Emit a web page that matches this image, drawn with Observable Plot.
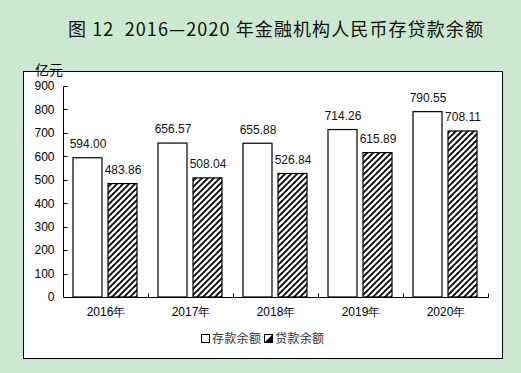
<!DOCTYPE html>
<html><head><meta charset="utf-8">
<script src="https://cdn.jsdelivr.net/npm/d3@7"></script>
<script src="https://cdn.jsdelivr.net/npm/@observablehq/plot@0.6"></script>
<style>
html,body{margin:0;padding:0;}
body{width:521px;height:373px;background:#cde8d0;position:relative;overflow:hidden;font-family:"Liberation Sans",Arial,sans-serif;}
#title{position:absolute;left:68px;top:17px;height:22px;line-height:22px;font-family:"Noto Sans CJK SC","Liberation Sans",sans-serif;font-size:18px;letter-spacing:1.1px;white-space:pre;color:#111;}
#box{position:absolute;left:23px;top:71px;width:478px;height:286px;border:1px solid #000;background:#fff;}
#unit{position:absolute;left:35px;top:60px;line-height:18px;font-family:"Noto Sans CJK SC",sans-serif;font-size:14px;color:#000;}
#chart{position:absolute;left:0;top:0;}
#legend{position:absolute;left:201px;top:330px;height:16px;line-height:16px;font-family:"Noto Sans CJK SC",sans-serif;font-size:12px;color:#333;white-space:nowrap;display:flex;align-items:center;}
#legend svg{display:block;margin-right:2px;}
#legend span{margin-right:3px;letter-spacing:0.3px;}
</style>
</head><body>
<div id="title">图 12  2016—2020 年金融机构人民币存贷款余额</div>
<div id="box"></div>
<div id="chart"></div>
<div id="unit">亿元</div>
<div id="legend">
  <svg width="9" height="9"><rect x="0.5" y="0.5" width="8" height="8" fill="#fff" stroke="#000"/></svg><span>存款余额</span>
  <svg width="9" height="9"><rect x="0.5" y="0.5" width="8" height="8" fill="#fff" stroke="#000"/><polygon points="8.5,0.5 8.5,8.5 0.5,8.5" fill="#000"/></svg><span>贷款余额</span>
</div>
<script>
const years = ["2016", "2017", "2018", "2019", "2020"];
const seriesNames = ["存款余额", "贷款余额"];
const deposits = [594.00, 656.57, 655.88, 714.26, 790.55];
const loans = [483.86, 508.04, 526.84, 615.89, 708.11];
const yTicks = [0, 100, 200, 300, 400, 500, 600, 700, 800, 900];

const depositRows = years.map((year, i) => ({year, series: seriesNames[0], value: deposits[i]}));
const loanRows = years.map((year, i) => ({year, series: seriesNames[1], value: loans[i]}));
const rows = depositRows.concat(loanRows);

const chart = Plot.plot({
  width: 521,
  height: 373,
  marginLeft: 62,
  marginRight: 32,
  marginTop: 86,
  marginBottom: 76,
  style: {background: "transparent", fontSize: "12px", fontFamily: "'Liberation Sans', Arial, sans-serif", color: "#000", overflow: "visible"},
  fx: {domain: years, padding: 0},
  x: {domain: seriesNames, paddingInner: 1 / 6, paddingOuter: 0.27, axis: null},
  y: {domain: [0, 900]},
  marks: [
    Plot.axisY(yTicks, {tickSize: 0, tickPadding: 9, label: null, fill: "#000"}),
    Plot.axisFx({anchor: "bottom", tickSize: 0, tickPadding: 10, tickFormat: d => d + "年", label: null, fill: "#000"}),
    Plot.barY(depositRows, {fx: "year", x: "series", y: "value", fill: "#fff", stroke: "#000", strokeWidth: 1.2}),
    Plot.barY(loanRows, {fx: "year", x: "series", y: "value", fill: "url(#hatch12)", stroke: "#000", strokeWidth: 1.2}),
    Plot.text(rows, {fx: "year", x: "series", y: "value", text: d => d.value.toFixed(2), dy: -14, fill: "#111", fontSize: 12})
  ]
});

const svg = d3.select(chart);
const defs = svg.insert("defs", ":first-child");
const pat = defs.append("pattern").attr("id", "hatch12").attr("patternUnits", "userSpaceOnUse").attr("width", 6).attr("height", 6);
pat.append("rect").attr("width", 6).attr("height", 6).attr("fill", "#fff");
pat.append("path").attr("d", "M-1,1 L1,-1 M0,6 L6,0 M5,7 L7,5").attr("stroke", "#000").attr("stroke-width", 1.8);

const fx = chart.scale("fx");
const ys = chart.scale("y");
const x0 = Math.round(fx.apply(years[0])) + 0.5;
const xEnd = Math.round(fx.apply(years[years.length - 1]) + fx.bandwidth) + 0.5;
const yTop = Math.round(ys.apply(yTicks[yTicks.length - 1])) + 0.5;
const yBase = Math.round(ys.apply(0)) + 0.5;
const g = svg.append("g").attr("stroke", "#000").attr("stroke-width", 1).attr("fill", "none");
g.append("line").attr("x1", x0).attr("x2", x0).attr("y1", yTop).attr("y2", yBase);
g.append("line").attr("x1", x0).attr("x2", xEnd).attr("y1", yBase).attr("y2", yBase);
yTicks.forEach(t => {
  const yy = Math.round(ys.apply(t)) + 0.5;
  g.append("line").attr("x1", x0).attr("x2", x0 + 4).attr("y1", yy).attr("y2", yy);
});
years.forEach(yr => {
  const xb = Math.round(fx.apply(yr) + fx.bandwidth) + 0.5;
  g.append("line").attr("x1", xb).attr("x2", xb).attr("y1", yBase).attr("y2", yBase - 4);
});

document.getElementById("chart").appendChild(chart);
</script>
</body></html>
